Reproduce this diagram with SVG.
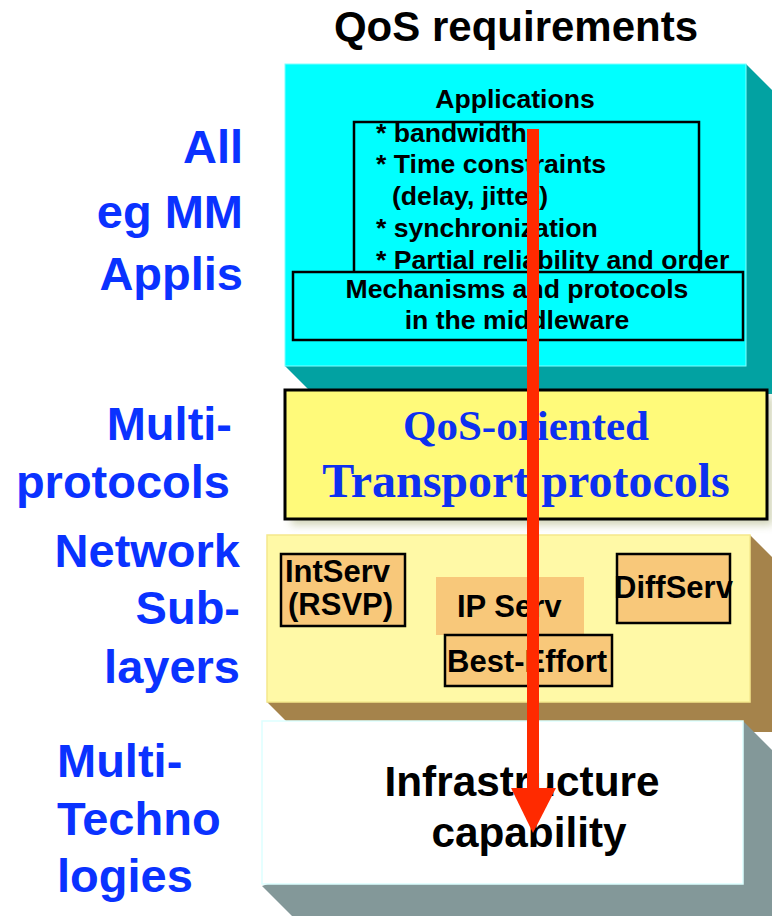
<svg xmlns="http://www.w3.org/2000/svg" width="772" height="916" viewBox="0 0 772 916">
<defs>
<style>
.lbl{font-family:"Liberation Sans",Arial,sans-serif;font-weight:bold;font-size:47px;fill:#0A32FF;text-anchor:end}
.lbl2{font-family:"Liberation Sans",Arial,sans-serif;font-weight:bold;font-size:47px;fill:#0A32FF}
.t26{font-family:"Liberation Sans",Arial,sans-serif;font-weight:bold;font-size:26.6px;fill:#000}
.t31{font-family:"Liberation Sans",Arial,sans-serif;font-weight:bold;font-size:31px;fill:#000}
.t42{font-family:"Liberation Sans",Arial,sans-serif;font-weight:bold;font-size:42.3px;fill:#000}
.serif{font-family:"Liberation Serif","Times New Roman",serif;font-weight:bold;fill:#0D30F0;text-anchor:middle}
.box{stroke:#000;stroke-width:2.5}
.peach{fill:#F8C87A}
</style>
<filter id="soft" x="-10%" y="-10%" width="130%" height="140%">
<feGaussianBlur stdDeviation="4"/>
</filter>
</defs>
<rect width="772" height="916" fill="#fff"/>

<text x="516" y="41" text-anchor="middle" style="font-family:'Liberation Sans',Arial,sans-serif;font-weight:bold;font-size:42px;fill:#000">QoS requirements</text>

<g id="side-labels">
<text class="lbl" x="243" y="163">All</text>
<text class="lbl" x="243" y="228">eg MM</text>
<text class="lbl" x="243" y="290">Applis</text>
<text class="lbl" x="232" y="440">Multi-</text>
<text class="lbl" x="230" y="498">protocols</text>
<text class="lbl" x="240" y="567">Network</text>
<text class="lbl" x="240" y="624">Sub-</text>
<text class="lbl" x="240" y="683">layers</text>
<text class="lbl2" x="57" y="777">Multi-</text>
<text class="lbl2" x="57" y="835">Techno</text>
<text class="lbl2" x="57" y="892">logies</text>
</g>

<g id="applications">
<polygon points="746,64 774,92 774,394 313,394 285,366" fill="#02A2A2"/>
<rect x="285" y="64" width="461" height="302" fill="#00FFFF" stroke="#7FFFFF" stroke-width="1"/>
<text class="t26" x="515" y="108" text-anchor="middle">Applications</text>
<rect x="354" y="122" width="345" height="160" fill="none" class="box"/>
<text class="t26" x="376" y="142">* bandwidth</text>
<text class="t26" x="376" y="173">* Time constraints</text>
<text class="t26" x="392" y="205">(delay, jitter)</text>
<text class="t26" x="376" y="237">* synchronization</text>
<text class="t26" x="376" y="269">* Partial reliability and order</text>
</g>

<g id="middleware">
<rect x="293" y="272" width="450" height="68" fill="#00FFFF" class="box"/>
<text class="t26" x="517" y="298" text-anchor="middle">Mechanisms and protocols</text>
<text class="t26" x="517" y="329" text-anchor="middle">in the middleware</text>
</g>

<g id="network-sublayers">
<polygon points="750,535 780,565 780,732 297,732 267,702" fill="#A5834B"/>
<rect x="267" y="535" width="483" height="167" fill="#FFF9A6" stroke="#F5E88C" stroke-width="1.5"/>
</g>

<g id="transport">
<rect x="291" y="396" width="482" height="129" fill="#9AA060" opacity="0.45" filter="url(#soft)"/>
<rect x="285" y="390" width="482" height="129" fill="#FFFA7A" stroke="#000" stroke-width="3"/>
<text class="serif" x="526" y="440" font-size="43">QoS-oriented</text>
<text class="serif" x="526" y="497" font-size="48">Transport protocols</text>
</g>

<g id="intserv">
<rect x="281" y="554" width="124" height="72" class="peach box"/>
<text class="t31" x="285" y="582">IntServ</text>
<text class="t31" x="288" y="615">(RSVP)</text>
</g>

<g id="ipserv">
<rect x="436" y="577" width="148" height="58" class="peach"/>
<text class="t31" x="457" y="617">IP Serv</text>
</g>

<g id="best-effort">
<rect x="445" y="635" width="167" height="51" class="peach box"/>
<text class="t31" x="447" y="672">Best-Effort</text>
</g>

<g id="diffserv">
<rect x="617" y="554" width="113" height="69" class="peach box"/>
<text class="t31" x="614" y="598">DiffServ</text>
</g>

<g id="infrastructure">
<polygon points="743,721 773,751 773,916 292,916 262,886" fill="#839899"/>
<rect x="262" y="721" width="481" height="163" fill="#fff" stroke="#DDFFFF" stroke-width="1.5"/>
<text class="t42" x="522" y="796" text-anchor="middle">Infrastructure</text>
<text class="t42" x="529" y="847" text-anchor="middle">capability</text>
</g>

<g id="connectors">
<line x1="533" y1="129" x2="533" y2="789" stroke="#FF2A00" stroke-width="12"/>
<path d="M511,788 L556,788 L533,833 Z" fill="#FF2A00"/>
</g>
</svg>
